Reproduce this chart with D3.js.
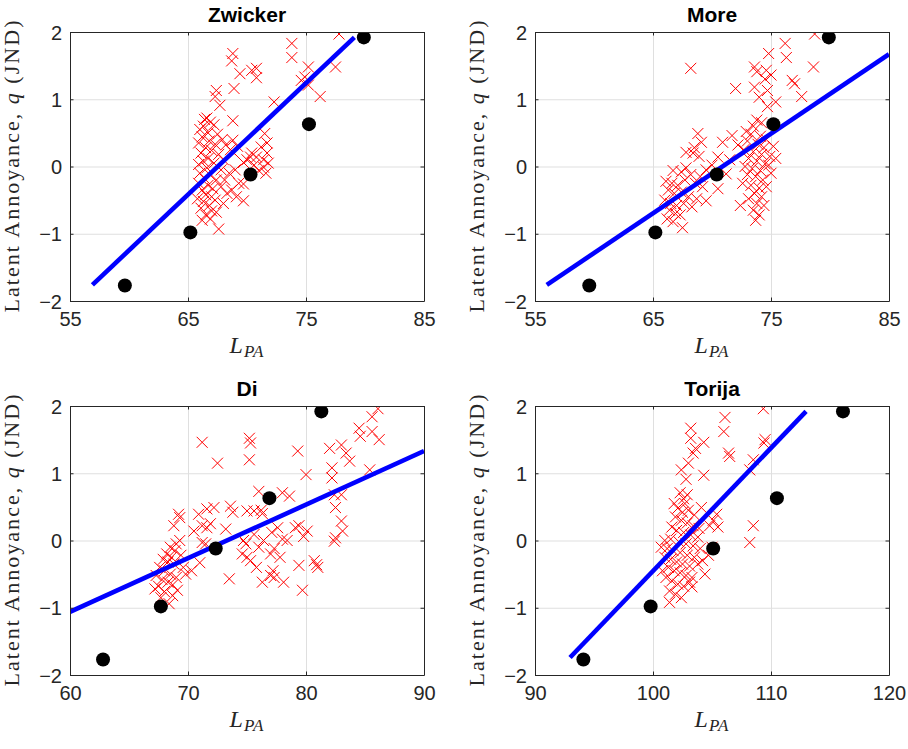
<!DOCTYPE html>
<html>
<head>
<meta charset="utf-8">
<script src="https://cdn.jsdelivr.net/npm/d3@7"></script>
<style>
  body { margin: 0; background: #fff; }
</style>
</head>
<body>
<script>
var titles = ['Zwicker', 'More', 'Di', 'Torija'];

var xDomains = [[55, 85], [55, 85], [60, 90], [90, 120]];
var xTickValues = [[55, 65, 75, 85], [55, 65, 75, 85], [60, 70, 80, 90], [90, 100, 110, 120]];
var yTickValues = [-2, -1, 0, 1, 2];

// black dots: same annoyance values in every panel
var dotQ = [-1.77, -0.98, -0.12, 0.63, 1.92];
var zwickerDotX = [59.65, 65.2, 70.3, 75.25, 79.9];
var moreDotX = [59.6, 65.2, 70.4, 75.2, 79.9];
var diDotX = [62.8, 67.7, 72.35, 76.9, 81.3];
var torijaDotX = [94.1, 99.8, 105.1, 110.5, 116.1];

// fitted lines, [x, q] end points
var zwickerFit = [[56.9, -1.76], [79.1, 1.92]];
var moreFit = [[56.0, -1.76], [85, 1.67]];
var diFit = [[60, -1.06], [90, 1.33]];
var torijaFit = [[92.97, -1.74], [112.97, 1.92]];

// red crosses, [x, q]
var zwickerPts = [
  [77.8,1.97],[73.8,1.83],[73.8,1.62],[68.8,1.68],[68.7,1.57],[75.2,1.48],[77.5,1.48],[70.4,1.43],[70.8,1.46],
  [70.8,1.32],[69.4,1.38],[74.9,1.33],[75.2,1.21],[74.6,1.28],[76.2,1.04],[68.9,1.16],[67.4,1.13],[67.3,1.04],
  [67.7,0.91],[72.3,0.96],[68.8,0.68],
  [66.4,0.70],[66.6,0.72],[66.9,0.66],[66.3,0.60],[67.2,0.62],[66.0,0.55],[66.7,0.50],[67.5,0.48],[67.9,0.40],
  [66.2,0.44],[66.8,0.38],[65.9,0.35],[67.3,0.33],[66.5,0.28],[67.0,0.24],[66.1,0.20],[67.6,0.18],[66.7,0.12],
  [66.3,0.08],[65.9,0.03],[67.2,0.05],[66.6,-0.02],[67.8,-0.05],[66.0,-0.10],[66.9,-0.13],[66.4,-0.18],[67.4,-0.20],
  [65.9,-0.25],[66.7,-0.28],[67.1,-0.33],[66.2,-0.35],[67.8,-0.30],[66.5,-0.42],[67.0,-0.45],[65.8,-0.48],[66.3,-0.52],
  [67.3,-0.50],[66.8,-0.58],[66.1,-0.62],[67.0,-0.66],[66.5,-0.72],[66.9,-0.78],[66.2,-0.80],[67.6,-0.93],[67.4,-0.68],
  [68.0,-0.55],[68.3,-0.40],[68.1,-0.20],[68.5,-0.10],[68.0,0.10],[68.6,0.25],[68.2,0.32],
  [68.8,0.39],[69.2,0.30],[68.9,0.20],[69.0,-0.05],[69.3,-0.25],[68.7,-0.35],[69.1,-0.45],[69.7,-0.26],[69.7,-0.51],
  [69.7,0.06],[70.3,0.14],[70.0,0.10],
  [71.5,0.49],[71.7,0.35],[71.2,0.29],[71.7,0.20],[70.8,0.14],[71.4,0.10],[71.4,-0.01],[71.8,0.05],[70.6,0.02],
  [71.0,-0.06],[71.6,-0.10],[70.4,0.20]
];
var morePts = [
  [78.7,1.97],[76.2,1.83],[76.3,1.62],[74.8,1.68],[68.2,1.46],[78.6,1.48],[73.6,1.48],[73.8,1.41],[74.6,1.43],
  [75.0,1.36],[74.5,1.30],[72.0,1.16],[73.6,1.18],[74.0,1.03],[74.7,1.13],[75.4,0.96],[76.8,1.28],[77.0,1.23],
  [77.6,1.04],[74.7,0.89],[73.8,0.69],[74.2,0.65],[73.5,0.60],
  [72.9,0.52],[73.3,0.48],[74.1,0.45],[74.6,0.40],[73.0,0.38],[73.9,0.33],[74.4,0.28],[72.7,0.25],[73.5,0.22],
  [74.2,0.18],[74.9,0.15],[73.1,0.12],[73.8,0.08],[74.5,0.04],[72.8,0.00],[73.4,-0.03],[74.1,-0.06],[74.8,0.02],
  [73.0,-0.12],[73.7,-0.15],[74.3,-0.20],[72.6,-0.25],[73.3,-0.28],[74.0,-0.32],[74.6,-0.30],[73.6,-0.40],[74.2,-0.45],
  [73.1,-0.48],[73.8,-0.55],[74.4,-0.58],[73.5,-0.65],[74.0,-0.72],[73.7,-0.80],[75.0,-0.10],[75.2,0.30],[75.4,0.12],
  [72.4,-0.58],[72.2,0.32],[71.7,0.46],
  [70.9,0.36],[70.5,0.14],[71.2,-0.11],[70.5,-0.33],[69.5,-0.51],[70.0,0.02],[71.5,0.10],
  [68.8,0.49],[69.1,0.36],[68.5,0.28],[67.8,0.21],[68.4,0.20],[68.9,0.15],[66.7,-0.06],[67.4,-0.08],[67.8,-0.02],
  [68.2,-0.12],[66.1,-0.22],[66.6,-0.25],[67.1,-0.28],[67.7,-0.20],[68.6,-0.25],[69.2,-0.30],[66.3,-0.35],[66.8,-0.40],
  [67.4,-0.38],[68.0,-0.45],[68.7,-0.48],[66.0,-0.50],[66.5,-0.55],[67.0,-0.58],[67.6,-0.55],[66.4,-0.65],[66.9,-0.70],
  [67.3,-0.72],[66.2,-0.78],[66.7,-0.82],[67.5,-0.91],[68.3,-0.60],[69.0,-0.15],[69.5,-0.05]
];
var diPts = [
  [86.1,1.96],[85.6,1.84],[84.5,1.67],[84.6,1.55],[85.6,1.62],[86.2,1.50],[85.4,1.05],[71.2,1.46],[75.2,1.52],
  [75.3,1.45],[75.2,1.20],[72.5,1.15],[79.3,1.33],[82.0,1.37],[83.0,1.42],[83.4,1.30],[83.7,1.18],[80.0,0.98],
  [82.2,1.08],[82.2,0.93],[82.4,0.68],[83.0,0.68],[82.5,0.49],[83.0,0.29],[83.1,0.14],[82.5,0.04],[82.4,-0.01],
  [79.7,-0.74],[80.7,-0.30],[81.0,-0.40],[80.9,-0.36],[79.4,-0.37],[80.1,0.14],[79.8,0.06],[79.1,0.19],[79.4,0.22],
  [78.0,0.71],[78.6,0.66],[76.0,0.73],[76.2,0.45],[75.6,0.44],[76.3,0.40],[75.0,0.44],[74.7,0.0],[74.9,-0.05],
  [74.6,-0.20],[75.3,-0.30],[75.0,-0.25],[76.3,-0.62],[77.0,-0.52],[77.3,-0.55],[77.2,-0.45],[78.1,-0.62],[77.8,-0.25],
  [77.3,-0.12],[78.4,0.0],[78.0,0.02],[77.6,0.19],[77.1,0.12],[77.0,-0.20],[76.4,0.0],[75.6,0.09],[76.0,-0.10],
  [75.8,-0.40],[73.5,-0.57],[73.2,0.17],[73.6,0.51],[73.8,0.42],[72.2,0.49],[71.6,0.47],[70.9,0.39],[70.5,0.14],
  [71.2,0.22],[71.6,0.19],[71.9,0.25],[71.2,-0.03],[71.5,-0.05],[71.0,-0.33],[70.3,-0.45],
  [69.2,0.39],[69.3,0.34],[68.8,0.22],[69.3,0.0],[69.0,-0.05],[68.5,-0.10],[68.9,-0.15],[68.2,-0.20],[68.6,-0.25],
  [69.4,-0.22],[67.9,-0.28],[68.3,-0.32],[68.8,-0.35],[69.6,-0.40],[69.8,-0.50],[67.6,-0.40],[68.0,-0.45],[68.5,-0.50],
  [69.0,-0.55],[67.3,-0.52],[67.8,-0.58],[68.3,-0.62],[68.7,-0.66],[67.5,-0.68],[67.2,-0.72],[68.0,-0.76],[69.1,-0.74],
  [67.7,-0.85],[68.4,-0.94],[68.7,-0.82]
];
var torijaPts = [
  [109.35,1.96],[106.1,1.83],[106.0,1.62],[103.2,1.67],[103.2,1.52],[104.3,1.46],[103.6,1.37],[103.4,1.30],[109.5,1.50],
  [109.4,1.45],[106.4,1.30],[106.5,1.25],[108.5,1.20],[108.2,1.05],[103.0,1.15],[102.4,1.05],[102.8,0.91],[104.3,0.97],
  [102.3,0.71],[102.9,0.68],[102.6,0.62],[108.5,0.22],[108.2,-0.03],[104.4,-0.50],[104.1,0.49],[105.4,0.39],[105.1,0.30],
  [105.5,0.20],[104.8,0.22],[105.0,-0.10],[104.7,-0.22],
  [101.8,0.55],[102.1,0.48],[102.5,0.42],[103.0,0.45],[103.5,0.38],[101.9,0.35],[102.4,0.30],[102.9,0.26],[103.4,0.22],
  [103.9,0.18],[101.6,0.20],[102.0,0.15],[102.6,0.12],[103.2,0.08],[103.8,0.05],[101.0,0.00],[101.5,0.02],[102.2,-0.02],
  [102.8,-0.05],[103.4,-0.08],[104.0,-0.12],[101.2,-0.12],[101.7,-0.15],[102.3,-0.18],[102.9,-0.22],[103.5,-0.25],
  [101.0,-0.25],[101.5,-0.28],[102.0,-0.32],[102.5,-0.35],[103.1,-0.38],[101.3,-0.40],[101.8,-0.45],[102.3,-0.48],
  [102.8,-0.52],[103.3,-0.55],[101.1,-0.55],[101.6,-0.60],[102.1,-0.65],[102.6,-0.68],[103.3,-0.69],[101.4,-0.75],
  [101.9,-0.80],[101.4,-0.92],[102.4,-0.85],[100.8,-0.45],[100.7,-0.10],[103.8,-0.35],[104.2,-0.30],[102.7,0.55],[103.1,-0.62]
];

var dotXs = [zwickerDotX, moreDotX, diDotX, torijaDotX];
var fits = [zwickerFit, moreFit, diFit, torijaFit];
var crosses = [zwickerPts, morePts, diPts, torijaPts];

/**
 * Layout
 */
var W = 908, H = 749;
var colLeft = [70, 535];
var rowTop = [32, 406];
var pw = 354, ph = 269;
var axisColor = '#262626';
var tickFont = '20px "Liberation Sans", Arial, sans-serif';
var serif = '"Liberation Serif", "Times New Roman", serif';

var svg = d3.select('body')
  .append('svg')
  .attr('width', W)
  .attr('height', H);

titles.forEach(function (title, i) {
  var left = colLeft[i % 2];
  var top = rowTop[Math.floor(i / 2)];

  var x = d3.scaleLinear().domain(xDomains[i]).range([0, pw]);
  var y = d3.scaleLinear().domain([-2, 2]).range([ph, 0]);

  var g = svg.append('g').attr('transform', 'translate(' + left + ',' + top + ')');

  g.append('clipPath')
    .attr('id', 'clip-' + i)
    .append('rect')
    .attr('width', pw)
    .attr('height', ph);

  // grid
  g.append('g')
    .attr('class', 'grid')
    .attr('transform', 'translate(0,' + ph + ')')
    .call(d3.axisBottom(x).tickValues(xTickValues[i]).tickSize(-ph).tickFormat(''));
  g.append('g')
    .attr('class', 'grid')
    .call(d3.axisLeft(y).tickValues(yTickValues).tickSize(-pw).tickFormat(''));
  g.selectAll('.grid .domain').remove();
  g.selectAll('.grid line').attr('stroke', '#dfdfdf').attr('stroke-width', 1);

  var plot = g.append('g').attr('clip-path', 'url(#clip-' + i + ')');

  // red crosses
  var s = 5.5;
  plot.selectAll('path.cross')
    .data(crosses[i])
    .enter()
    .append('path')
    .attr('class', 'cross')
    .attr('d', function (d) {
      var cx = x(d[0]), cy = y(d[1]);
      return 'M' + (cx - s) + ',' + (cy - s) + 'L' + (cx + s) + ',' + (cy + s) +
        'M' + (cx - s) + ',' + (cy + s) + 'L' + (cx + s) + ',' + (cy - s);
    })
    .attr('stroke', '#ff0000')
    .attr('stroke-width', 1)
    .attr('fill', 'none');

  // fit line
  plot.append('path')
    .datum(fits[i])
    .attr('d', d3.line().x(function (d) { return x(d[0]); }).y(function (d) { return y(d[1]); }))
    .attr('stroke', '#0000ff')
    .attr('stroke-width', 4.6)
    .attr('fill', 'none');

  // black dots
  plot.selectAll('circle')
    .data(dotXs[i])
    .enter()
    .append('circle')
    .attr('cx', function (d) { return x(d); })
    .attr('cy', function (d, k) { return y(dotQ[k]); })
    .attr('r', 7)
    .attr('fill', '#000');

  // axes with inward ticks on all four sides
  var tl = 3.5;
  var fmt = d3.format('d');
  var bottom = g.append('g')
    .attr('transform', 'translate(0,' + ph + ')')
    .call(d3.axisBottom(x).tickValues(xTickValues[i]).tickFormat(fmt).tickSizeInner(-tl).tickSizeOuter(0).tickPadding(11));
  var leftAx = g.append('g')
    .call(d3.axisLeft(y).tickValues(yTickValues).tickFormat(fmt).tickSizeInner(-tl).tickSizeOuter(0).tickPadding(8));
  var topAx = g.append('g')
    .call(d3.axisTop(x).tickValues(xTickValues[i]).tickSizeInner(-tl).tickSizeOuter(0).tickFormat(''));
  var rightAx = g.append('g')
    .attr('transform', 'translate(' + pw + ',0)')
    .call(d3.axisRight(y).tickValues(yTickValues).tickSizeInner(-tl).tickSizeOuter(0).tickFormat(''));

  [bottom, leftAx, topAx, rightAx].forEach(function (a) {
    a.selectAll('path.domain').attr('stroke', axisColor).attr('stroke-width', 1);
    a.selectAll('line').attr('stroke', axisColor).attr('stroke-width', 1);
    a.selectAll('text')
      .attr('fill', axisColor)
      .style('font', tickFont);
  });
  bottom.selectAll('text').attr('dy', '0.71em');
  leftAx.selectAll('text').attr('dy', '0.36em');

  // title
  g.append('text')
    .attr('x', pw / 2)
    .attr('y', -10)
    .attr('text-anchor', 'middle')
    .style('font', 'bold 21px "Liberation Sans", Arial, sans-serif')
    .attr('fill', '#000')
    .text(title);

  // x label
  var xl = g.append('text')
    .attr('x', pw / 2)
    .attr('y', ph + 52)
    .attr('text-anchor', 'middle')
    .style('font-family', serif)
    .style('font-style', 'italic')
    .style('font-size', '24px')
    .attr('fill', axisColor);
  xl.append('tspan').text('L');
  xl.append('tspan').attr('dx', 1).attr('dy', 4).style('font-size', '17px').attr('letter-spacing', 1).text('PA');

  // y label
  var yl = g.append('text')
    .attr('transform', 'translate(' + (-51) + ',' + (ph / 2) + ') rotate(-90)')
    .attr('text-anchor', 'middle')
    .attr('textLength', 292)
    .attr('lengthAdjust', 'spacing')
    .style('font-family', serif)
    .style('font-size', '22px')
    .attr('fill', axisColor);
  yl.append('tspan').text('Latent Annoyance, ');
  yl.append('tspan').style('font-style', 'italic').text('q');
  yl.append('tspan').text(' (JND)');
});
</script>
</body>
</html>
